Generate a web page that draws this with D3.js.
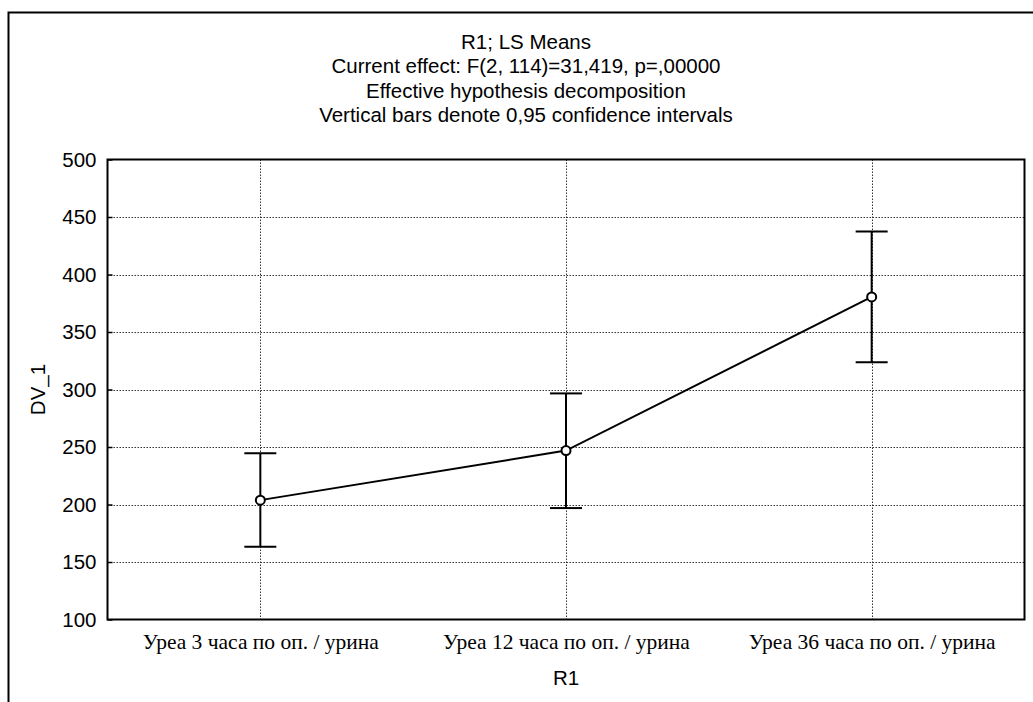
<!DOCTYPE html>
<html><head><meta charset="utf-8">
<script src="https://cdn.jsdelivr.net/npm/d3@7"></script>
<style>body{margin:0;background:#fff}svg{display:block}</style>
</head><body>
<script>
const categories = ["Уреа 3 часа по оп. / урина", "Уреа 12 часа по оп. / урина", "Уреа 36 часа по оп. / урина"];
const means = [203.8, 246.9, 380.5];
const upper = [244.6, 296.6, 437.5];
const lower = [163.2, 196.9, 323.6];
const yTicks = [100, 150, 200, 250, 300, 350, 400, 450, 500];
const titleLines = ["R1; LS Means", "Current effect: F(2, 114)=31,419, p=,00000", "Effective hypothesis decomposition", "Vertical bars denote 0,95 confidence intervals"];
const xTitle = "R1", yTitle = "DV_1";

const W = 1033, H = 702;
const m = {left: 107.5, top: 159.5, right: 1024.5, bottom: 619.5};
const svg = d3.select("body").append("svg").attr("width", W).attr("height", H);
const sans = "Arial, 'Liberation Sans', sans-serif";
const serif = "'Times New Roman', 'Liberation Serif', serif";

// outer frame
svg.append("path").attr("d", `M8.5,${H} V12.5 H${W}`).attr("fill","none").attr("stroke","#000").attr("stroke-width",2);

const x = d3.scalePoint().domain(categories).range([m.left, m.right]).padding(0.5);
const y = d3.scaleLinear().domain([100, 500]).range([m.bottom, m.top]);

// grid
svg.append("g").selectAll("line").data(yTicks.slice(1, -1)).join("line")
  .attr("x1", m.left).attr("x2", m.right).attr("y1", d => Math.round(y(d)) + 0.5).attr("y2", d => Math.round(y(d)) + 0.5)
  .attr("stroke", "#333").attr("stroke-dasharray", "1.5,1.5").attr("stroke-width", 1);
svg.append("g").selectAll("line").data(categories).join("line")
  .attr("y1", m.top).attr("y2", m.bottom).attr("x1", d => Math.round(x(d)) + 0.5).attr("x2", d => Math.round(x(d)) + 0.5)
  .attr("stroke", "#333").attr("stroke-dasharray", "1.5,1.5").attr("stroke-width", 1);

// axes
const yAxis = d3.axisLeft(y).tickValues(yTicks).tickSize(-5).tickPadding(11);
const gy = svg.append("g").attr("transform", `translate(${m.left},0)`).call(yAxis);
gy.select(".domain").remove();
gy.selectAll("line").attr("stroke", "#000").attr("stroke-width", 1.5);
gy.selectAll("text").attr("font-family", sans).attr("font-size", 20.5).attr("fill", "#000");

const xAxis = d3.axisBottom(x).tickSize(0).tickPadding(14);
const gx = svg.append("g").attr("transform", `translate(0,${m.bottom})`).call(xAxis);
gx.select(".domain").remove();
gx.selectAll("text").attr("font-family", serif).attr("font-size", 21.5).attr("fill", "#000");

// frame of plot
svg.append("rect").attr("x", m.left).attr("y", m.top).attr("width", m.right - m.left).attr("height", m.bottom - m.top)
  .attr("fill", "none").attr("stroke", "#000").attr("stroke-width", 2);

// error bars
const eb = svg.append("g").attr("stroke", "#000").attr("stroke-width", 2);
categories.forEach((c, i) => {
  const cx = x(c);
  eb.append("line").attr("x1", cx).attr("x2", cx).attr("y1", y(upper[i])).attr("y2", y(lower[i]));
  eb.append("line").attr("x1", cx - 16).attr("x2", cx + 16).attr("y1", y(upper[i])).attr("y2", y(upper[i]));
  eb.append("line").attr("x1", cx - 16).attr("x2", cx + 16).attr("y1", y(lower[i])).attr("y2", y(lower[i]));
});

// line
svg.append("path").datum(means).attr("fill", "none").attr("stroke", "#000").attr("stroke-width", 2)
  .attr("d", d3.line().x((d, i) => x(categories[i])).y(d => y(d)));
svg.append("g").selectAll("circle").data(means).join("circle")
  .attr("cx", (d, i) => x(categories[i])).attr("cy", d => y(d)).attr("r", 4.5)
  .attr("fill", "#fff").attr("stroke", "#000").attr("stroke-width", 2);

// titles
svg.append("g").selectAll("text").data(titleLines).join("text")
  .attr("x", 526).attr("y", (d, i) => 42 + i * 24.3).attr("dy", "0.35em")
  .attr("text-anchor", "middle").attr("font-family", sans).attr("font-size", 20.5).text(d => d);

svg.append("text").attr("x", (m.left + m.right) / 2).attr("y", 678).attr("dy", "0.35em")
  .attr("text-anchor", "middle").attr("font-family", sans).attr("font-size", 20.5).text(xTitle);
svg.append("text").attr("transform", `translate(38,${(m.top + m.bottom) / 2}) rotate(-90)`).attr("dy", "0.35em")
  .attr("text-anchor", "middle").attr("font-family", sans).attr("font-size", 20.5).text(yTitle);
</script>
</body></html>
